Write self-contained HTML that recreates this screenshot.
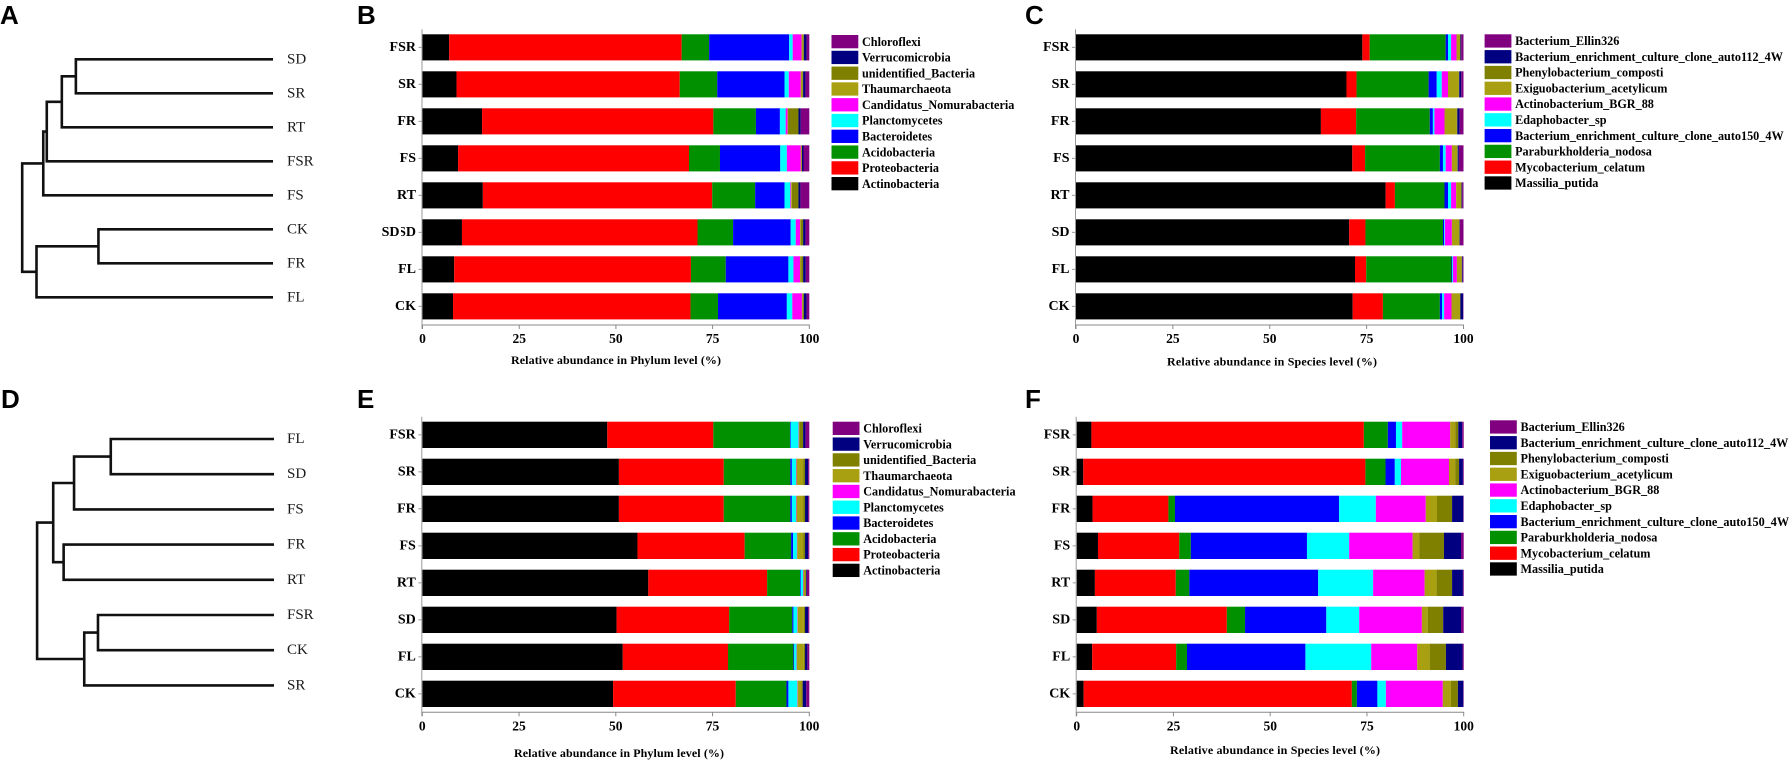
<!DOCTYPE html>
<html lang="en">
<head>
<meta charset="utf-8">
<title>Microbial community dendrograms and relative abundance</title>
<style>
html,body{margin:0;padding:0;background:#fff;width:1791px;height:760px;overflow:hidden}
svg{display:block;filter:blur(0.3px)}
text{font-family:"Liberation Serif",serif}
.letter{font-family:"Liberation Sans",sans-serif;font-weight:700;font-size:26px;fill:#000}
</style>
</head>
<body>
<svg id="figure" xmlns="http://www.w3.org/2000/svg" width="1791" height="760" viewBox="0 0 1791 760">
<text class="letter" x="0" y="24">A</text>
<text class="letter" x="357" y="24">B</text>
<text class="letter" x="1025" y="24">C</text>
<text class="letter" x="1" y="408">D</text>
<text class="letter" x="357" y="408">E</text>
<text class="letter" x="1025" y="408">F</text>
</svg>
<script>
// ---------- shared data ----------
const categories = ['FSR', 'SR', 'FR', 'FS', 'RT', 'SD', 'FL', 'CK'];
const tickValues = [0, 25, 50, 75, 100];
const seriesColors = ['#000000', '#ff0000', '#009000', '#0000ff', '#00ffff', '#ff00ff', '#a8a010', '#808000', '#000080', '#800080'];
const phylumNames = ['Actinobacteria', 'Proteobacteria', 'Acidobacteria', 'Bacteroidetes', 'Planctomycetes', 'Candidatus_Nomurabacteria', 'Thaumarchaeota', 'unidentified_Bacteria', 'Verrucomicrobia', 'Chloroflexi'];
const speciesNames = ['Massilia_putida', 'Mycobacterium_celatum', 'Paraburkholderia_nodosa', 'Bacterium_enrichment_culture_clone_auto150_4W', 'Edaphobacter_sp', 'Actinobacterium_BGR_88', 'Exiguobacterium_acetylicum', 'Phenylobacterium_composti', 'Bacterium_enrichment_culture_clone_auto112_4W', 'Bacterium_Ellin326'];

// ---------- panel B: phylum ----------
const bActinobacteria = [6.9, 8.8, 15.4, 9.2, 15.6, 10.2, 8.2, 7.9];
const bProteobacteria = [60.1, 57.7, 59.8, 59.7, 59.3, 60.9, 61.2, 61.4];
const bAcidobacteria = [7.1, 9.7, 11.0, 8.0, 11.1, 9.2, 9.0, 7.1];
const bBacteroidetes = [20.7, 17.4, 6.2, 15.6, 7.6, 14.9, 16.2, 17.8];
const bPlanctomycetes = [0.9, 1.1, 1.5, 1.7, 1.5, 1.3, 1.3, 1.4];
const bCandidatus = [2.3, 3.1, 0.5, 3.6, 0.2, 1.1, 1.7, 2.5];
const bThaumarchaeota = [0.4, 0.4, 0.1, 0.2, 0.2, 0.2, 0.3, 0.2];
const bUnidentified = [0.2, 0.2, 2.7, 0.1, 1.7, 0.6, 0.5, 0.3];
const bVerrucomicrobia = [0.7, 0.6, 0.6, 0.4, 0.5, 0.6, 0.7, 0.7];
const bChloroflexi = [0.7, 1.0, 2.2, 1.5, 2.3, 1.0, 0.9, 0.7];

// ---------- panel C: species ----------
const cMassilia = [73.9, 69.8, 63.2, 71.3, 79.9, 70.5, 72.0, 71.4];
const cMycobacterium = [1.9, 2.6, 9.1, 3.3, 2.4, 4.2, 2.9, 7.8];
const cParaburkholderia = [19.6, 18.6, 19.0, 19.3, 12.8, 20.0, 22.0, 14.7];
const cAuto150 = [0.6, 2.1, 0.8, 0.8, 0.9, 0.3, 0.2, 0.6];
const cEdaphobacter = [0.8, 1.3, 0.4, 0.7, 0.8, 0.2, 0.2, 0.5];
const cActinobacterium = [1.4, 1.6, 2.6, 1.6, 1.3, 1.8, 1.0, 1.9];
const cExiguobacterium = [0.9, 2.8, 3.2, 1.4, 1.3, 1.9, 1.2, 2.2];
const cPhenylobacterium = [0.1, 0.1, 0.1, 0.1, 0.1, 0.1, 0.1, 0.1];
const cAuto112 = [0.2, 0.5, 0.6, 0.3, 0.2, 0.1, 0.2, 0.7];
const cEllin326 = [0.6, 0.6, 1.0, 1.2, 0.3, 0.9, 0.2, 0.1];

// ---------- panel E: phylum ----------
const eActinobacteria = [47.8, 50.8, 50.8, 55.6, 58.4, 50.2, 51.8, 49.3];
const eProteobacteria = [27.4, 27.1, 27.1, 27.7, 30.7, 29.1, 27.2, 31.7];
const eAcidobacteria = [19.8, 17.2, 17.2, 12.0, 8.5, 16.3, 16.9, 13.1];
const eBacteroidetes = [0.2, 0.4, 0.4, 0.5, 0.2, 0.3, 0.2, 0.5];
const ePlanctomycetes = [2.0, 1.1, 1.1, 1.0, 0.6, 1.0, 0.6, 2.3];
const eCandidatus = [0.1, 0.1, 0.1, 0.1, 0.1, 0.1, 0.1, 0.1];
const eThaumarchaeota = [0.1, 1.7, 1.7, 1.5, 0.5, 1.6, 1.8, 1.0];
const eUnidentified = [1.0, 0.5, 0.5, 0.5, 0.2, 0.3, 0.3, 0.3];
const eVerrucomicrobia = [0.6, 0.8, 0.8, 0.8, 0.2, 0.8, 0.6, 0.9];
const eChloroflexi = [1.0, 0.3, 0.3, 0.3, 0.6, 0.3, 0.5, 0.8];

// ---------- panel F: species ----------
const fMassilia = [3.8, 1.7, 4.1, 5.5, 4.7, 5.2, 4.0, 1.8];
const fMycobacterium = [70.4, 72.9, 19.6, 21.0, 20.9, 33.6, 21.7, 69.3];
const fParaburkholderia = [6.2, 5.2, 1.7, 3.0, 3.5, 4.7, 2.8, 1.3];
const fAuto150 = [2.1, 2.4, 42.4, 30.0, 33.3, 21.0, 30.6, 5.3];
const fEdaphobacter = [1.6, 1.6, 9.5, 10.9, 14.2, 8.5, 17.0, 2.2];
const fActinobacterium = [12.4, 12.4, 12.9, 16.4, 13.3, 16.2, 11.9, 14.7];
const fExiguobacterium = [1.3, 1.6, 2.9, 1.7, 3.1, 1.5, 3.2, 2.1];
const fPhenylobacterium = [0.8, 1.0, 3.9, 6.4, 4.0, 4.0, 4.2, 1.8];
const fAuto112 = [1.0, 1.0, 2.9, 4.4, 2.8, 4.6, 4.3, 1.4];
const fEllin326 = [0.4, 0.2, 0.1, 0.7, 0.2, 0.7, 0.3, 0.1];

// ---------- dendrogram A ----------
const aLeaves = ['SD', 'SR', 'RT', 'FSR', 'FS', 'CK', 'FR', 'FL'];
const aMergeFirst = [0, 8, 9, 10, 5, 12, 11];
const aMergeSecond = [1, 2, 3, 4, 6, 7, 13];
const aMergeHeight = [0.786, 0.842, 0.902, 0.916, 0.696, 0.943, 1.0];

// ---------- dendrogram D ----------
const dLeaves = ['FL', 'SD', 'FS', 'FR', 'RT', 'FSR', 'CK', 'SR'];
const dMergeFirst = [0, 8, 3, 9, 5, 12, 11];
const dMergeSecond = [1, 2, 4, 10, 6, 7, 13];
const dMergeHeight = [0.689, 0.844, 0.888, 0.932, 0.743, 0.801, 1.0];

const NS = 'http://www.w3.org/2000/svg';
const figure = document.getElementById('figure');

function make(parent, tag, attrs, text) {
  const node = document.createElementNS(NS, tag);
  for (const key in attrs) node.setAttribute(key, attrs[key]);
  if (text !== undefined) node.textContent = text;
  parent.appendChild(node);
  return node;
}

function drawDendrogram(id, leaves, first, second, heights, box) {
  const group = make(figure, 'g', {});
  
  
  const xOf = h => box.leafX - h * (box.leafX - box.rootX);
  const yOf = i => box.top + i * box.pitch;
  const nodes = leaves.map((name, i) => ({ x: box.leafX, y: yOf(i) }));
  leaves.forEach((name, i) => {
    const label = make(group, 'text', { x: box.labelX, y: yOf(i), 'dominant-baseline': 'central', 'font-size': 15, fill: '#1a1a1a' }, name);
    
    
  });
  heights.forEach((h, i) => {
    const a = nodes[first[i]];
    const b = nodes[second[i]];
    const x = xOf(h);
    const path = make(group, 'path', {
      d: 'M' + a.x + ' ' + a.y + 'H' + x + 'V' + b.y + 'H' + b.x,
      fill: 'none', stroke: '#111', 'stroke-width': 2.6, 'stroke-linejoin': 'miter'
    });
    
    
    nodes.push({ x: x, y: (a.y + b.y) / 2 });
  });
}

function drawBars(id, series, names, box, axisTitle) {
  const group = make(figure, 'g', {});
  
  
  const xScale = v => box.x0 + v / 100 * (box.x100 - box.x0);
  const yScale = i => box.top + i * box.pitch;

  categories.forEach((cat, row) => {
    let total = 0;
    series.forEach((values, s) => {
      const rect = make(group, 'rect', {
        x: xScale(total), y: yScale(row),
        width: xScale(total + values[row]) - xScale(total),
        height: box.barH, fill: seriesColors[s]
      });
      
      
      total += values[row];
    });
    const cy = yScale(row) + box.barH / 2;
    const tick = make(group, 'line', { x1: box.x0 - 4, x2: box.x0, y1: cy, y2: cy, stroke: '#999', 'stroke-width': 1 });
    
    
    const label = make(group, 'text', { x: box.x0 - 6.5, y: cy, 'text-anchor': 'end', 'dominant-baseline': 'central', 'font-size': 14, 'font-weight': 700, fill: '#000' }, cat);
    
    
  });

  const yAxis = make(group, 'line', { x1: box.x0 - 0.5, x2: box.x0 - 0.5, y1: box.top - 5, y2: box.axisY + 4, stroke: '#999', 'stroke-width': 1 });
  
  
  const xAxis = make(group, 'line', { x1: box.x0 - 0.5, x2: box.x100 + 0.5, y1: box.axisY, y2: box.axisY, stroke: '#888', 'stroke-width': 1 });
  
  

  tickValues.forEach(v => {
    const tick = make(group, 'line', { x1: xScale(v), x2: xScale(v), y1: box.axisY, y2: box.axisY + 4, stroke: '#888', 'stroke-width': 1 });
    
    
    const label = make(group, 'text', { x: xScale(v), y: box.axisY + 13.5, 'text-anchor': 'middle', 'dominant-baseline': 'central', 'font-size': 13.5, 'font-weight': 700, fill: '#000' }, String(v));
    
    
  });

  const title = make(group, 'text', { x: box.titleX, y: box.titleY, 'text-anchor': 'middle', 'dominant-baseline': 'central', 'font-size': 12, 'font-weight': 700, fill: '#000', textLength: 210, lengthAdjust: 'spacing' }, axisTitle);
  
  

  const legend = make(group, 'g', {});
  
  
  for (let s = names.length - 1, row = 0; s >= 0; s--, row++) {
    const y = box.legendY + row * 15.78;
    const swatch = make(legend, 'rect', { x: box.legendX, y: y, width: 26.8, height: 13.3, fill: seriesColors[s] });
    
    
    const entry = make(legend, 'text', { x: box.legendX + 30.5, y: y + 6.8, 'dominant-baseline': 'central', 'font-size': 12.2, 'font-weight': 700, fill: '#000' }, names[s]);
    
    
  }
  return group;
}

drawDendrogram('a', aLeaves, aMergeFirst, aMergeSecond, aMergeHeight, { leafX: 273, rootX: 22.2, top: 59.3, pitch: 34, labelX: 287 });
drawDendrogram('d', dLeaves, dMergeFirst, dMergeSecond, dMergeHeight, { leafX: 274, rootX: 37.1, top: 439, pitch: 35.2, labelX: 287 });

const panelB = drawBars('b',
  [bActinobacteria, bProteobacteria, bAcidobacteria, bBacteroidetes, bPlanctomycetes, bCandidatus, bThaumarchaeota, bUnidentified, bVerrucomicrobia, bChloroflexi],
  phylumNames,
  { x0: 422.5, x100: 809.3, top: 34.3, pitch: 37, barH: 26.1, axisY: 325, titleX: 616, titleY: 360, legendX: 831.5, legendY: 35 },
  'Relative abundance in Phylum level (%)');

drawBars('c',
  [cMassilia, cMycobacterium, cParaburkholderia, cAuto150, cEdaphobacter, cActinobacterium, cExiguobacterium, cPhenylobacterium, cAuto112, cEllin326],
  speciesNames,
  { x0: 1076, x100: 1463.5, top: 34.3, pitch: 37, barH: 26.1, axisY: 325, titleX: 1272, titleY: 361.5, legendX: 1484.6, legendY: 34.3 },
  'Relative abundance in Species level (%)');

drawBars('e',
  [eActinobacteria, eProteobacteria, eAcidobacteria, eBacteroidetes, ePlanctomycetes, eCandidatus, eThaumarchaeota, eUnidentified, eVerrucomicrobia, eChloroflexi],
  phylumNames,
  { x0: 422.3, x100: 809.3, top: 421.7, pitch: 37, barH: 26.3, axisY: 712.3, titleX: 619, titleY: 753, legendX: 832.7, legendY: 421.7 },
  'Relative abundance in Phylum level (%)');

drawBars('f',
  [fMassilia, fMycobacterium, fParaburkholderia, fAuto150, fEdaphobacter, fActinobacterium, fExiguobacterium, fPhenylobacterium, fAuto112, fEllin326],
  speciesNames,
  { x0: 1076.7, x100: 1463.7, top: 421.7, pitch: 37, barH: 26.3, axisY: 712.3, titleX: 1275, titleY: 750, legendX: 1490, legendY: 420.3 },
  'Relative abundance in Species level (%)');

// Overprinted "SD" label seen in panel B of the source figure
const maskY = 34.3 + 5 * 37;
const ghostMask = make(panelB, 'rect', { x: 398, y: maskY + 5, width: 3, height: 16, fill: '#fff' });


const ghost = make(panelB, 'text', { x: 399.5, y: maskY + 13, 'text-anchor': 'end', 'dominant-baseline': 'central', 'font-size': 14, 'font-weight': 700, fill: '#000' }, 'SD');


</script>
</body>
</html>
